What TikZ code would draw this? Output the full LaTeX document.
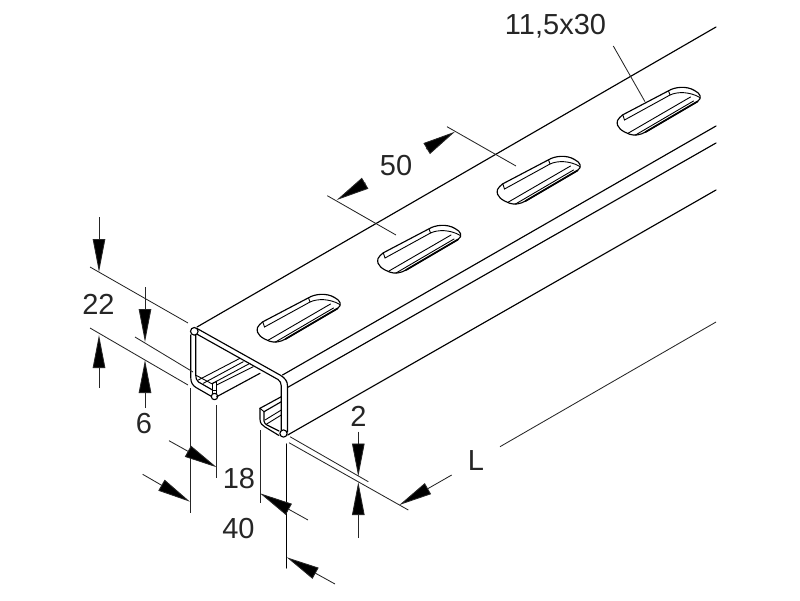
\documentclass[tikz,border=0pt]{standalone}
\usepackage{fontspec}
\setmainfont{Liberation Sans}
\usetikzlibrary{arrows.meta}
\tikzset{
  edge/.style={draw=black,line width=1.15pt,line join=round,line cap=round},
  thin edge/.style={draw=black,line width=0.9pt,line cap=round},
  dimline/.style={draw=black!85,line width=0.85pt},
  dimarrow/.style={draw=black!85,line width=0.85pt,-{Triangle[length=33pt,width=12.5pt,fill=black]}},
  lab/.style={inner sep=0pt,font=\fontsize{29}{29}\selectfont,text=black!85},
  slotpic/.pic={
    \draw[edge] (-36.7,4.3) -- (9,-19.7) .. controls (15,-23.5) and (27,-25) .. (35,-20)
      .. controls (41,-17) and (43,-12.5) .. (38,-9) -- (-14,21.5)
      .. controls (-19,24.5) and (-25,25.5) .. (-30,23.7)
      .. controls (-37,21) and (-44,17) .. (-42,10)
      .. controls (-41,8) and (-39,6) .. (-36.7,4.3) -- cycle;
    \draw[thin edge] (-36.7,4.3) -- (-35,9.5) -- (10.5,-15.5) .. controls (18,-19) and (30,-19) .. (40.5,-13);
    \draw[thin edge] (9,-19.7) -- (10.5,-15.5);
    \draw[thin edge] (-31,22.5) -- (31,-13.5);
    \draw[thin edge] (-24,24.5) -- (34,-9.5);
    \draw[line width=1.7pt,line cap=round] (-14,21.5) -- (38,-9);
  },
}
\begin{document}
\begin{tikzpicture}[x=1pt,y=-1pt]
\useasboundingbox (0,0) rectangle (800,600);
% long edges
\draw[edge] (197,327) -- (716,27);
\draw[edge] (282.5,375) -- (716,126);
\draw[edge] (287.5,387.5) -- (716,143);
\draw[edge] (287.7,435) -- (716,190);
% slots
\pic at (299.5,317.5) {slotpic};
\pic at (420,248.5) {slotpic};
\pic at (539.5,179.5) {slotpic};
\pic at (659.5,110.5) {slotpic};
% profile: top band
\draw[edge] (196.7,328.3) -- (280,375) .. controls (285,378) and (287.5,381) .. (287.5,386) -- (287.5,432);
\draw[edge] (196.7,334) -- (278,379.5) .. controls (280,381) and (281.3,383) .. (281.3,386) -- (281.3,430);
% left web
\draw[edge] (190.8,335) -- (190.8,378) .. controls (190.8,382) and (192.5,385.5) .. (196,387.5) -- (212.5,397);
\draw[edge] (195.7,335) -- (195.7,375) .. controls (195.7,378) and (196.5,380.5) .. (198.5,382) -- (212.5,390);
\draw[edge,fill=white] (194.3,331.3) circle (3.8);
% left lip
\draw[edge] (212.3,383.5) -- (212.3,395);
\draw[edge] (216.7,381.5) -- (216.7,395);
\draw[thin edge] (212.3,383.5) -- (216.7,381.5);
\draw[thin edge] (196.5,375.5) -- (212.3,384);
\draw[thin edge] (212.3,390) -- (216.7,390);
\draw[edge,fill=white] (214.5,396.5) circle (3.2);
\draw[thin edge] (198.3,380) -- (240,358.3);
\draw[thin edge] (203.3,383.3) -- (243.3,361.7);
\draw[thin edge] (212.3,383.5) -- (250,363.3);
\draw[thin edge] (216.7,385) -- (253.3,366.7);
\draw[edge] (216.7,396.7) -- (260,373.3);
% right lip
\draw[edge] (260,408.3) -- (281.3,396.7);
\draw[edge] (264,411.7) -- (281.3,401.7);
\draw[thin edge] (260,408.3) -- (264,411.7);
\draw[edge] (260,408.3) -- (260,419) .. controls (260,423) and (262,425.5) .. (265,427) -- (279,435.5);
\draw[edge] (264,411.7) -- (264,421) .. controls (264,423) and (265.5,424) .. (267,425) -- (279,431);
\draw[thin edge] (265,420) -- (281.3,410);
\draw[thin edge] (266.7,424) -- (281.3,415);
\draw[edge,fill=white] (283.5,433.5) circle (3.6);
% dimension 22
\draw[dimarrow] (99,217) -- (99,272);
\draw[dimarrow] (99,388) -- (99,335);
\draw[dimline] (90,267) -- (188,323);
\draw[dimline] (90,328) -- (188,385);
% dimension 6
\draw[dimarrow] (145,287) -- (145,342);
\draw[dimarrow] (145,408) -- (145,360);
\draw[dimline] (135,337) -- (193,372);
% dimension 18
\draw[dimline] (190,388) -- (190,513);
\draw[dimline] (216.7,405) -- (216.7,478);
\draw[dimarrow] (169,440.7) -- (216.7,467.3);
\draw[dimarrow] (142.7,474.3) -- (190,501.7);
% dimension 40
\draw[dimline] (260,430) -- (260,503);
\draw[edge] (286.3,444) -- (286.3,568);
\draw[dimarrow] (308,520) -- (260,493.3);
\draw[dimarrow] (335,584) -- (286.7,557.3);
% dimension 2
\draw[dimarrow] (358.3,431.7) -- (358.3,476.5);
\draw[dimarrow] (358.3,538) -- (358.3,482);
\draw[dimline] (290,436.7) -- (368.3,481.7);
\draw[dimline] (289,442.7) -- (408.3,510);
% dimension L
\draw[dimarrow] (451.7,475) -- (399.3,505);
\draw[dimline] (500,446.7) -- (716,322);
% dimension 50
\draw[dimline] (327.3,195.7) -- (396,235);
\draw[dimline] (447,126.7) -- (516,166);
\draw[dimarrow] (365.5,183) -- (336.7,200);
\draw[dimarrow] (426,149) -- (455,131.7);
% leader
\draw[dimline] (613.3,46) -- (645,101.7);
% labels
\node[lab] (t22) at (98.5,304) {22};
\node[lab] (t6) at (144,424) {6};
\node[lab] (t18) at (239,479) {18};
\node[lab] (t40) at (238.5,529) {40};
\node[lab] (t2) at (358.5,416) {2};
\node[lab] (tL) at (476,461) {L};
\node[lab] (t50) at (396,166) {50};
\node[lab] (tslot) at (555.5,26) {11,5x30};
\end{tikzpicture}
\end{document}
